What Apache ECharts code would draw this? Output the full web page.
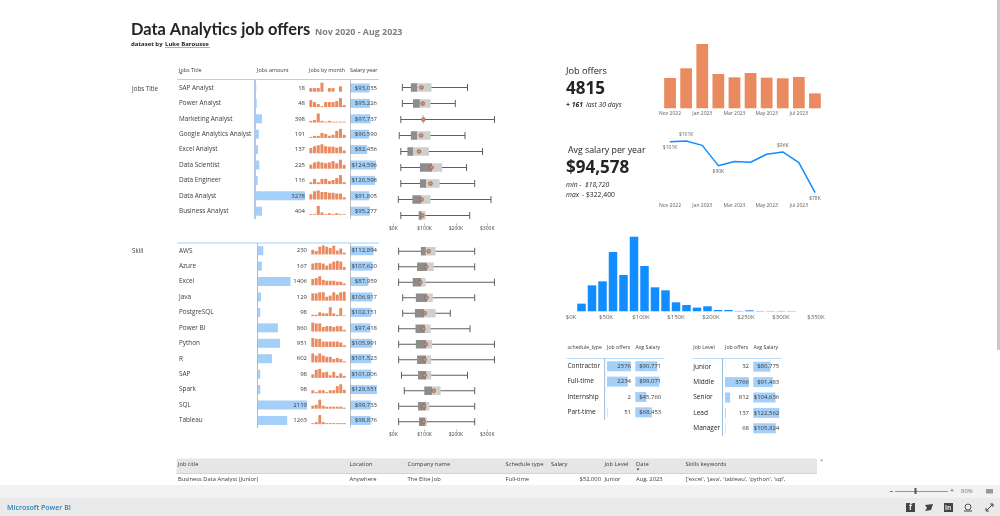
<!DOCTYPE html>
<html><head><meta charset="utf-8"><title>Data Analytics job offers</title>
<style>html,body{margin:0;padding:0;background:#fff;overflow:hidden}#c{width:1000px;height:516px}</style>
<script src="https://cdn.jsdelivr.net/npm/echarts@6/dist/echarts.min.js"></script></head>
<body><div id="c"></div>
<script>
// ---------- data ----------
const months = ['Nov 2022','Dec 2022','Jan 2023','Feb 2023','Mar 2023','Apr 2023','May 2023','Jun 2023','Jul 2023','Aug 2023'];
const monthlyOffers = [427,563,905,483,436,497,431,422,441,210];
const monthlySalaryK = [100.5,100.8,98.9,90,91.8,91.5,95,96,91.3,78.3];
const salaryPointLabels = ['bottom','top',null,'bottom',null,null,null,'top',null,'bottom'];

const jobTitles = ['SAP Analyst','Power Analyst','Marketing Analyst','Google Analytics Analyst','Excel Analyst','Data Scientist','Data Engineer','Data Analyst','Business Analyst'];
const jobAmounts = [18,48,398,191,137,225,116,3278,404];
const jobSalaries = [93035,95226,97737,90590,82456,124596,120598,91805,95277];
const jobMonthly = [
 [2,2,2,5,0,2,2,0,3,0],
 [7,5,3,1,5,5,5,6,9,2],
 [32,48,176,32,16,32,16,16,16,16],
 [5,10,10,25,20,10,15,35,45,15],
 [11,15,17,19,15,14,14,12,14,6],
 [15,23,26,23,20,23,28,20,33,14],
 [5,14,5,14,14,8,11,16,24,5],
 [264,415,452,377,377,339,339,302,302,111],
 [17,17,185,50,17,34,17,34,17,16]];
// low, q1, median, q3, high, mean
const jobBoxes = [
 [29000,56000,77000,122000,237000,90000],
 [29000,63000,85000,119000,198000,94000],
 [24000,94000,96000,98000,323000,96000],
 [19000,56000,76000,119000,229000,89000],
 [24000,45000,63000,114000,285000,82000],
 [24000,85000,124000,156000,234000,122000],
 [24000,85000,105000,148000,260000,119000],
 [16000,61000,90000,119000,312000,90000],
 [24000,81000,91000,103000,244000,93000]];

const skills = ['AWS','Azure','Excel','Java','PostgreSQL','Power BI','Python','R','SAP','Spark','SQL','Tableau'];
const skillAmounts = [230,167,1406,129,98,860,951,602,98,98,2119,1263];
const skillSalaries = [112894,107620,87959,106917,102151,97418,105991,101523,101006,129551,99733,98876];
const skillMonthly = [
 [18,13,30,35,30,25,34,15,23,7],
 [16,18,18,16,11,16,21,23,21,7],
 [176,201,251,151,126,126,126,100,100,49],
 [13,13,15,15,7,9,15,11,15,16],
 [4,4,11,8,8,26,8,4,23,2],
 [134,121,121,67,81,81,67,81,81,26],
 [146,132,132,88,88,88,88,88,73,28],
 [98,74,98,74,61,61,37,49,37,13],
 [7,16,18,11,12,5,12,4,9,4],
 [8,3,8,8,3,8,8,19,24,9],
 [212,282,635,212,141,141,141,141,141,73],
 [63,126,568,126,63,63,63,63,63,65]];
const skillBoxes = [
 [17000,88000,104000,135000,260000,113000],
 [17000,76000,108000,129000,260000,105000],
 [17000,62000,90000,103000,323000,86000],
 [30000,72000,108000,126000,260000,106000],
 [30000,69000,99000,135000,182000,100000],
 [17000,71000,101000,119000,245000,96000],
 [17000,72000,105000,124000,323000,104000],
 [17000,76000,105000,121000,323000,100000],
 [26000,79000,106000,121000,237000,100000],
 [35000,99000,124000,151000,260000,129000],
 [17000,79000,104000,115000,260000,98000],
 [17000,82000,103000,107000,260000,97000]];

const histBinsK = [15,30,45,60,75,90,105,120,135,150,165,180,195,210,225,240,255,270,285,300,315];
const histCounts = [23,78,90,178,109,224,136,72,63,27,19,11,15,4,4,1,3,1,1,1,1];

const scheduleTypes = ['Contractor','Full-time','Internship','Part-time'];
const scheduleOffers = [2576,2234,2,51];
const scheduleSalaries = [90771,99071,45760,68453];
const jobLevels = ['Junior','Middle','Senior','Lead','Manager'];
const levelOffers = [32,3766,812,137,68];
const levelSalaries = [80775,91483,104636,122562,105924];

const tableColumns = ['Job title','Location','Company name','Schedule type','Salary','Job Level','Date','Skills keywords'];
const tableRow = ['Business Data Analyst (Junior)','Anywhere','The Elite Job','Full-time','$52,000','Junior','Aug, 2023',"['excel', 'java', 'tableau', 'python', 'sql',"];

// ---------- helpers ----------
const FONT = '"Open Sans","Noto Sans",sans-serif';
const BAR = '#a3cff8', ORANGE = '#e98a5f', BLUE = '#118dff', GREY = '#7f7f7f', INK = '#3b3a39';
const money = v => '$' + v.toLocaleString('en-US');
const grids = [], xAxes = [], yAxes = [], series = [], graphics = [];

function addGrid(g, x, ys) {
  const i = grids.length;
  grids.push(Object.assign({outerBoundsMode:'none', containLabel:false}, g));
  xAxes.push(Object.assign({gridIndex:i}, x));
  const y0 = yAxes.length;
  ys.forEach(y => yAxes.push(Object.assign({gridIndex:i}, y)));
  return {xi:i, yi:y0};
}
const hiddenVal = (min,max) => ({type:'value', min, max, show:false});
function barColumn(o) {
  const hidden = {show:false};
  const catAxis = {type:'category', inverse:true, data:o.cats, axisLine:hidden, axisTick:hidden, splitLine:hidden, z:6,
    axisLabel: o.catMargin ? {show:true, align:'left', margin:o.catMargin, fontSize:o.catSize, color:o.catColor||INK, fontFamily:FONT, interval:0} : hidden};
  const labelAxis = {type:'category', inverse:true, position:'right', data:o.values.map(o.fmt), axisLine:hidden, axisTick:hidden, splitLine:hidden, z:6,
    axisLabel:{show:true, align:'right', margin:o.labelMargin||0, fontSize:o.valSize, color:INK, fontFamily:FONT, interval:0}};
  const a = addGrid({left:o.left, width:o.width, top:o.top, height:o.rowH*o.cats.length}, hiddenVal(0,o.max), [catAxis,labelAxis]);
  series.push({type:'bar', z:1, xAxisIndex:a.xi, yAxisIndex:a.yi, data:o.values, barWidth:o.barH, silent:true, itemStyle:{color:BAR}});
}
function sparks(left, width, top, rowH, rows) {
  rows.forEach((r,i) => {
    const a = addGrid({left, width, top:top+i*rowH+2.4, height:9},
      {type:'category', data:months, show:false}, [hiddenVal(0,Math.max(...r))]);
    series.push({type:'bar', xAxisIndex:a.xi, yAxisIndex:a.yi, data:r, barCategoryGap:'18%', silent:true, itemStyle:{color:ORANGE}});
  });
}
function boxes(top, rowH, cats, rows) {
  const a = addGrid({left:393.3, width:109.6, top, height:rowH*cats.length},
    {type:'value', min:0, max:350000, interval:100000, splitLine:{show:false}, axisLine:{show:false},
     axisTick:{show:true, length:2, lineStyle:{color:'#8a8a8a', width:.6}},
     axisLabel:{show:true, fontSize:5, margin:3, color:'#444', fontFamily:FONT, showMaxLabel:false, formatter:v=>'$'+v/1000+'K'}},
    [{type:'category', inverse:true, data:cats, show:false}]);
  series.push({type:'custom', xAxisIndex:a.xi, yAxisIndex:a.yi, silent:true,
    data:rows.map((r,i)=>[...r,i]), encode:{x:[0,1,2,3,4,5], y:6},
    renderItem(p, api){
      const row = api.value(6), at = k => api.coord([api.value(k), row]);
      const lo=at(0), q1=at(1), med=at(2), q3=at(3), hi=at(4), mean=at(5), y=lo[1], h=8.5;
      const ln = (x1,y1,x2,y2)=>({type:'line', shape:{x1,y1,x2,y2}, style:{stroke:'#5f5f5f', lineWidth:1}});
      return {type:'group', children:[
        ln(lo[0],y,hi[0],y), ln(lo[0],y-3.5,lo[0],y+3.5), ln(hi[0],y-3.5,hi[0],y+3.5),
        {type:'rect', shape:{x:q1[0], y:y-h/2, width:med[0]-q1[0], height:h}, style:{fill:'#8d8d8d'}},
        {type:'rect', shape:{x:med[0], y:y-h/2, width:q3[0]-med[0], height:h}, style:{fill:'#cfcfcf'}},
        {type:'circle', shape:{cx:mean[0], cy:y, r:1.9}, style:{fill:ORANGE, stroke:'#555', lineWidth:.5}}
      ]};
    }});
}
function txt(text, x, y, size, o={}) {
  graphics.push({type:'text', silent:true, z:20, style:{text, x, y, fill:o.fill||INK, align:o.align||'left', verticalAlign:'middle',
    font:`${o.italic?'italic ':''}${o.weight||'normal'} ${size}px ${o.family||FONT}`}});
}
function rect(x, y, width, height, fill, z=0) {
  graphics.push({type:'rect', silent:true, z, shape:{x,y,width,height}, style:{fill}});
}
function dec(shapeType, shape, style) { graphics.push({type:shapeType, silent:true, z:20, shape, style}); }

// ---------- page background and footer ----------
rect(0,485,1000,13,'#f2f2f2');
rect(0,498,1000,18,'#eaeaea');
rect(997,0,3,350,'#c9c9c9');

// ---------- heading ----------
txt('Data Analytics job offers',131,30,16.4,{weight:'bold',fill:'#252423',family:'Lato'});
txt('Nov 2020 - Aug 2023',315,32,8.9,{weight:'bold',fill:'#807f7e'});
txt('dataset by',131,44,6,{weight:'bold',fill:'#252423'});
txt('Luke Barousse',165,44,6,{weight:'bold',fill:'#252423'});
rect(165,47.4,45,.7,'#3f6b96',20);

// ---------- job-title table ----------
txt('Jobs Title',132,89.5,6.2);
txt('Jobs Title',179,70,5.4); txt('Jobs amount',257,70,5.4); txt('Jobs by month',309,70,5.4); txt('Salary year',350,70,5.4);
dec('polygon',{points:[[179.5,72.5],[182.5,72.5],[181,74.5]]},{fill:'#555'});
rect(177,79,202,1,'#a3d4fb',5);
rect(254.5,80,1,139,'#5f95c9',5);
rect(350,80,.6,139,'#9a9a9a',5);
barColumn({cats:jobTitles, values:jobAmounts, fmt:v=>String(v), left:256, width:49, top:80.3, rowH:15.4, barH:9, max:3278, catMargin:77, catSize:6.4, valSize:6});
sparks(309,37,80.3,15.4,jobMonthly);
barColumn({cats:jobTitles, values:jobSalaries, fmt:money, left:350.3, width:26.7, top:80.3, rowH:15.4, barH:9, max:129551, valSize:6});
boxes(79.5,16,jobTitles,jobBoxes);

// ---------- skill table ----------
txt('Skill',132,251,6.2);
rect(177,242.5,202,1,'#a3d4fb',5);
rect(257,243,1,185,'#8fc2ee',5);
rect(350,243,.6,185,'#9a9a9a',5);
barColumn({cats:skills, values:skillAmounts, fmt:v=>String(v), left:258, width:49, top:243, rowH:15.43, barH:9, max:2119, catMargin:79, catSize:6.4, valSize:6});
sparks(311,35,243,15.43,skillMonthly);
barColumn({cats:skills, values:skillSalaries, fmt:money, left:350.3, width:26.7, top:243, rowH:15.43, barH:9, max:129551, valSize:6});
boxes(243.5,15.5,skills,skillBoxes);

// ---------- KPI cards ----------
txt('Job offers',566,71,9.2,{fill:'#252423'});
txt('4815',566,89,17,{weight:'bold',fill:'#252423'});
txt('+ 161',566,105,6.8,{weight:'bold',italic:true,fill:'#252423'});
txt('last 30 days',586,105,6.8,{italic:true,fill:'#252423'});
txt('Avg salary per year',568,150.5,8.8,{fill:'#252423'});
txt('$94,578',566,168,17,{weight:'bold',fill:'#252423'});
txt('min -  $18,720',566,185,6.8,{italic:true,fill:'#252423'});
txt('max',566,195.5,6.8,{italic:true,fill:'#252423'});
txt('- $322,400',582,195.5,6.8,{fill:'#252423'});

const monthAxis = {type:'category', data:months, axisLine:{show:false}, axisTick:{show:false},
  axisLabel:{show:true, interval:1, fontSize:5, margin:3, color:'#605e5c', fontFamily:FONT}};
let a = addGrid({left:662, width:161, top:44, height:64.3}, monthAxis,
  [{type:'value', min:0, max:905, show:false}]);
series.push({type:'bar', xAxisIndex:a.xi, yAxisIndex:a.yi, data:monthlyOffers, barCategoryGap:'27%', silent:true, itemStyle:{color:ORANGE}});

a = addGrid({left:662, width:161, top:131.5, height:68.3}, monthAxis,
  [{type:'value', min:75, max:105, show:false}]);
series.push({type:'line', xAxisIndex:a.xi, yAxisIndex:a.yi, silent:true, symbol:'circle', symbolSize:1, showSymbol:true, showAllSymbol:true,
  itemStyle:{color:BLUE}, lineStyle:{color:BLUE, width:1.5},
  data:monthlySalaryK.map((v,i)=>({value:v, label:{show:!!salaryPointLabels[i], position:salaryPointLabels[i]||'top', distance:3,
    fontSize:5, color:'#605e5c', fontFamily:FONT, formatter:'$'+Math.round(v)+'K'}}))});

// ---------- salary histogram ----------
a = addGrid({left:571, width:245, top:236.7, height:74.6},
  {type:'value', min:0, max:350000, interval:50000, splitLine:{show:false}, axisLine:{show:false}, axisTick:{show:false},
   axisLabel:{show:true, fontSize:6, margin:3, color:'#605e5c', fontFamily:FONT, formatter:v=>'$'+v/1000+'K'}},
  [{type:'value', min:0, max:224, show:false}]);
series.push({type:'bar', xAxisIndex:a.xi, yAxisIndex:a.yi, silent:true, barWidth:8.5, itemStyle:{color:BLUE},
  data:histBinsK.map((k,i)=>[k*1000, histCounts[i]])});

// ---------- small tables ----------
txt('schedule_type',567.5,348,5.2); txt('Job offers',607,348,5.2); txt('Avg Salary',635.5,348,5.2);
rect(566.5,358,98,.8,'#a3d4fb',5);
rect(604.3,358,.8,62,'#7faed8',5);
barColumn({cats:scheduleTypes, values:scheduleOffers, fmt:v=>String(v), left:607, width:24, top:358.6, rowH:15.35, barH:10, max:2576, catMargin:39.5, catSize:6.5, valSize:6, catColor:'#252423'});
barColumn({cats:scheduleTypes, values:scheduleSalaries, fmt:money, left:635.3, width:24, top:358.6, rowH:15.35, barH:10, max:99071, valSize:6, labelMargin:2});

txt('Job Level',693.3,348,5.2); txt('Job offers',725,348,5.2); txt('Avg Salary',753.5,348,5.2);
rect(692,358,90,.8,'#a3d4fb',5);
rect(722,358,.8,78,'#7faed8',5);
barColumn({cats:jobLevels, values:levelOffers, fmt:v=>String(v), left:725, width:24, top:359, rowH:15.4, barH:10, max:3766, catMargin:31.7, catSize:6.5, valSize:6, catColor:'#252423'});
barColumn({cats:jobLevels, values:levelSalaries, fmt:money, left:753.3, width:26, top:359, rowH:15.4, barH:10, max:122562, valSize:6});

// ---------- detail table ----------
const colX = [178,349.5,407.6,505.6,551,604.5,636,685.6];
rect(176.5,458.5,640.5,14.5,'#e6e6e6');
rect(176.5,473,640.5,.8,'#a9cfe0',5);
tableColumns.forEach((c,i)=>txt(c,colX[i],464,5.8));
tableRow.forEach((c,i)=>i===4 ? txt(c,601,479,5.8,{align:'right'}) : txt(c,colX[i],479,5.8));
dec('polygon',{points:[[636.5,468.5],[639.5,468.5],[638,470.5]]},{fill:'#444'});
txt('*',820,461,6,{fill:'#8a8a8a'});

// ---------- Power BI footer ----------
txt('Microsoft Power BI',7,507.5,7,{weight:'600',fill:'#2f7fb3'});
rect(890,491,3,.8,'#555',20);
rect(895,491,53,.8,'#777',20);
rect(914.5,488,2,6,'#555',20);
txt('+',950,491,7,{fill:'#555'});
txt('80%',961,491,6,{fill:'#777'});
rect(986,489,7,4.5,'#999',20);
rect(906,503,9,9,'#444',20); txt('f',909,508,8,{weight:'bold',fill:'#eaeaea'});
dec('polygon',{points:[[925,505],[933,504],[931,510],[925,511],[927,508]]},{fill:'#444'});
rect(944,503,9,9,'#444',20); txt('in',945,508,6.5,{weight:'bold',fill:'#eaeaea'});
dec('circle',{cx:968,cy:507,r:3},{fill:'none',stroke:'#444',lineWidth:.9});
rect(964,510.5,8,1,'#444',20);
dec('line',{x1:986,y1:511,x2:993,y2:504},{stroke:'#444',lineWidth:1});
dec('polyline',{points:[[990,504],[993,504],[993,507]]},{fill:'none',stroke:'#444',lineWidth:1});
dec('polyline',{points:[[986,508],[986,511],[989,511]]},{fill:'none',stroke:'#444',lineWidth:1});

// ---------- render ----------
const chart = echarts.init(document.getElementById('c'), null, {renderer:'canvas'});
chart.setOption({animation:false, backgroundColor:'#fff', textStyle:{fontFamily:FONT},
  grid:grids, xAxis:xAxes, yAxis:yAxes, series, graphic:{elements:graphics}});
</script></body></html>
